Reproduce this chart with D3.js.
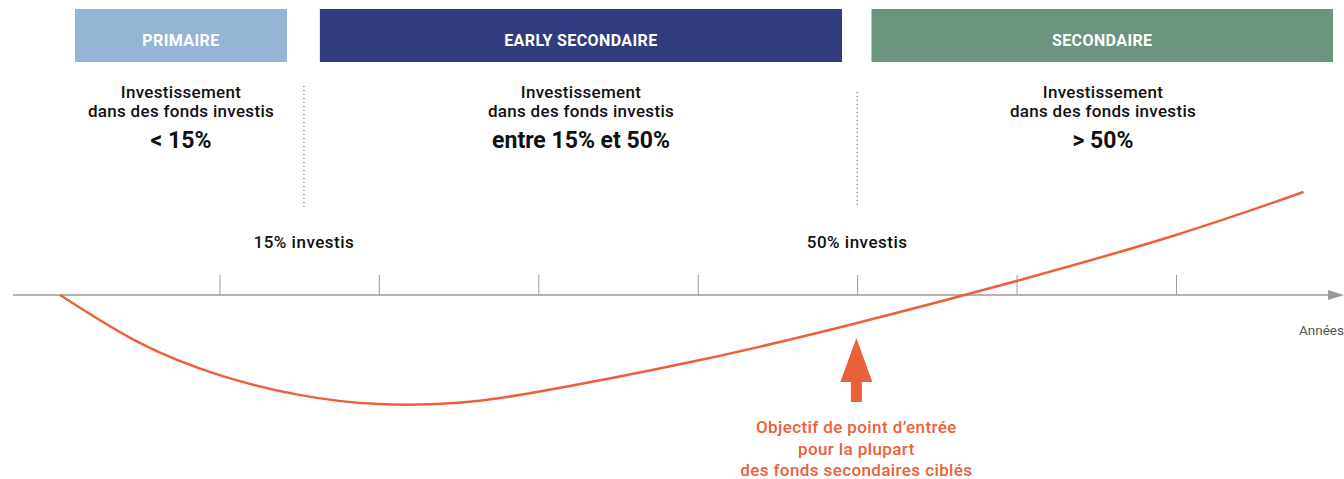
<!DOCTYPE html>
<html>
<head>
<meta charset="utf-8">
<script src="https://cdn.jsdelivr.net/npm/d3@7"></script>
<style>
	body { margin: 0; background: #fff; }
	svg { display: block; font-family: Roboto, "Liberation Sans", sans-serif; }
</style>
</head>
<body>
<div id="chart"></div>
<script>
// Data
//---------------------------------------------------------------------------
// J-curve: years since launch and cumulative net flow (arbitrary units)
var years = [0, 0.5, 1, 1.5, 2, 2.5, 3, 4, 5, 6, 7, 7.8];
var values = [0, -21.8, -36.4, -45.4, -49.6, -49.0, -44.0, -29.8, -12.7, 6.4, 27.3, 46.8];

var tickYears = [1, 2, 3, 4, 5, 6, 7];

// phases shown as banners on top
var phases = ["PRIMAIRE", "EARLY SECONDAIRE", "SECONDAIRE"];
var phaseStart = [0.094, 1.63, 5.09];
var phaseEnd = [1.424, 4.905, 7.985];
var phaseColors = ["#93b5d6", "#333c80", "#6b957e"];
var phaseRange = ["< 15%", "entre 15% et 50%", "> 50%"];

// thresholds (dotted lines)
var thresholdYears = [1.53, 5.0];
var thresholdLabels = ["15% investis", "50% investis"];

var entryYear = 4.995;
var entryNote = ["Objectif de point d\u2019entrée", "pour la plupart", "des fonds secondaires ciblés"];

// Canvas
//---------------------------------------------------------------------------
var width = 1344, height = 479;
var svg = d3.select("#chart").append("svg")
	.attr("width", width)
	.attr("height", height);

var x = d3.scaleLinear().domain([0, 7]).range([60, 1176]);
var y = d3.scaleLinear().domain([-50, 50]).range([405, 185]);

var orange = "#ec6039";
var axisGrey = "#9a9a9a";

// Banners
//---------------------------------------------------------------------------
var banner = svg.selectAll("g.phase")
	.data(phases).enter()
	.append("g")
	.attr("class", "phase");

banner.append("rect")
	.attr("x", function(d, i) { return x(phaseStart[i]); })
	.attr("y", 9)
	.attr("width", function(d, i) { return x(phaseEnd[i]) - x(phaseStart[i]); })
	.attr("height", 53)
	.attr("fill", function(d, i) { return phaseColors[i]; });

banner.append("text")
	.attr("x", function(d, i) { return (x(phaseStart[i]) + x(phaseEnd[i])) / 2; })
	.attr("y", 46)
	.attr("text-anchor", "middle")
	.attr("fill", "#fff")
	.attr("font-size", "16px")
	.attr("font-weight", 700)
	.attr("letter-spacing", "0.4px")
	.text(function(d) { return d; });

// description under each banner
var descX = [181, 581, 1103];
banner.append("text")
	.attr("x", function(d, i) { return descX[i]; })
	.attr("y", 98)
	.attr("text-anchor", "middle")
	.attr("fill", "#111")
	.attr("font-size", "17px")
	.attr("font-weight", 500)
	.attr("letter-spacing", "0.3px")
	.text("Investissement");
banner.append("text")
	.attr("x", function(d, i) { return descX[i]; })
	.attr("y", 117)
	.attr("text-anchor", "middle")
	.attr("fill", "#111")
	.attr("font-size", "17px")
	.attr("font-weight", 500)
	.attr("letter-spacing", "0.3px")
	.text("dans des fonds investis");
banner.append("text")
	.attr("x", function(d, i) { return descX[i]; })
	.attr("y", 148)
	.attr("text-anchor", "middle")
	.attr("fill", "#111")
	.attr("font-size", "23px")
	.attr("font-weight", 700)
	.text(function(d, i) { return phaseRange[i]; });

// Thresholds
//---------------------------------------------------------------------------
svg.selectAll("line.threshold")
	.data(thresholdYears).enter()
	.append("line")
	.attr("class", "threshold")
	.attr("x1", function(d) { return x(d); })
	.attr("x2", function(d) { return x(d); })
	.attr("y1", function(d, i) { return i == 0 ? 86 : 92; })
	.attr("y2", 207)
	.attr("stroke", "#444")
	.attr("stroke-width", 1)
	.attr("stroke-dasharray", "1,3");

svg.selectAll("text.threshold")
	.data(thresholdLabels).enter()
	.append("text")
	.attr("class", "threshold")
	.attr("x", function(d, i) { return x(thresholdYears[i]); })
	.attr("y", 248)
	.attr("text-anchor", "middle")
	.attr("fill", "#111")
	.attr("font-size", "17px")
	.attr("font-weight", 500)
	.attr("letter-spacing", "0.5px")
	.text(function(d) { return d; });

// Axis
//---------------------------------------------------------------------------
var xAxis = d3.axisTop(x)
	.tickValues(tickYears)
	.tickSize(20)
	.tickFormat("");

var axisG = svg.append("g")
	.attr("transform", "translate(0," + y(0) + ")")
	.call(xAxis);
axisG.select(".domain").remove();
axisG.selectAll(".tick line")
	.attr("stroke", axisGrey)
	.attr("stroke-width", 1);

svg.append("line")
	.attr("x1", 13)
	.attr("x2", 1330)
	.attr("y1", y(0))
	.attr("y2", y(0))
	.attr("stroke", axisGrey)
	.attr("stroke-width", 1.5);
svg.append("path")
	.attr("d", "M1328," + (y(0) - 5) + "L1344," + y(0) + "L1328," + (y(0) + 5) + "Z")
	.attr("fill", axisGrey);

svg.append("text")
	.attr("x", 1344)
	.attr("y", 335)
	.attr("text-anchor", "end")
	.attr("fill", "#555")
	.attr("font-size", "13.5px")
	.text("Années");

// Curve
//---------------------------------------------------------------------------
var line = d3.line()
	.x(function(d, i) { return x(years[i]); })
	.y(function(d) { return y(d); })
	.curve(d3.curveNatural);

svg.append("path")
	.datum(values)
	.attr("d", line)
	.attr("fill", "none")
	.attr("stroke", orange)
	.attr("stroke-width", 2.5);

// Entry point arrow + note
//---------------------------------------------------------------------------
var ax = x(entryYear);
svg.append("path")
	.attr("d", "M" + ax + ",338L" + (ax + 16) + ",382L" + (ax + 5.5) + ",382L" + (ax + 5.5) + ",402L"
		+ (ax - 5.5) + ",402L" + (ax - 5.5) + ",382L" + (ax - 16) + ",382Z")
	.attr("fill", orange);

svg.selectAll("text.note")
	.data(entryNote).enter()
	.append("text")
	.attr("class", "note")
	.attr("x", ax)
	.attr("y", function(d, i) { return 433 + i * 21.5; })
	.attr("text-anchor", "middle")
	.attr("fill", orange)
	.attr("font-size", "17px")
	.attr("font-weight", 500)
	.attr("letter-spacing", "0.4px")
	.text(function(d) { return d; });
</script>
</body>
</html>
